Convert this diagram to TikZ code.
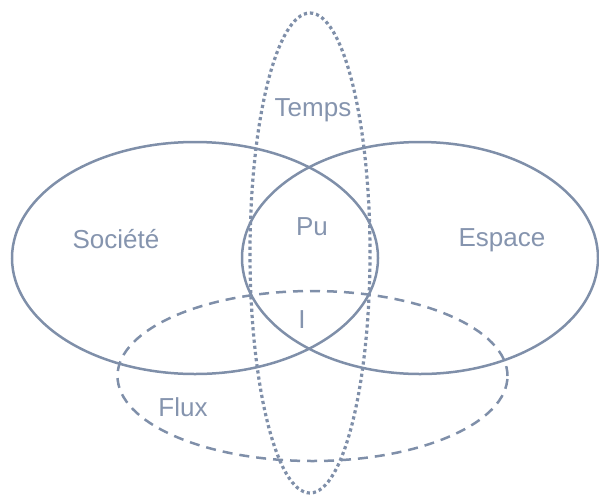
\documentclass[tikz,border=0pt]{standalone}
\usepackage{fontspec}
\setmainfont{Liberation Sans}
\definecolor{linec}{HTML}{7F8FA9}
\definecolor{textc}{HTML}{8594AE}
\begin{document}
\begin{tikzpicture}[x=1pt,y=-1pt,
  setline/.style={draw=linec, line width=2.5pt},
  dashline/.style={draw=linec, line width=2.5pt, dash pattern=on 10pt off 7pt},
  dotline/.style={draw=linec, line width=3.2pt, dash pattern=on 3.2pt off 3pt},
  lbl/.style={text=textc, font=\fontsize{26}{30}\selectfont, anchor=base, inner sep=0pt}]
\useasboundingbox (0,0) rectangle (599,496);
% Société
\draw[setline] (195,258) ellipse [x radius=183pt, y radius=116pt];
% Espace
\draw[setline] (420,258) ellipse [x radius=178pt, y radius=116pt];
% Flux
\draw[dashline] (312.5,376) ellipse [x radius=195pt, y radius=85pt];
% Temps
\draw[dotline] (310,253) ellipse [x radius=60pt, y radius=240pt];
\node[lbl] (soc) at (116,248) {Société};
\node[lbl] (esp) at (502,246) {Espace};
\node[lbl] (pu) at (312,235) {Pu};
\node[lbl] (i) at (302,328) {I};
\node[lbl] (flux) at (183,416) {Flux};
\node[lbl] (temps) at (313,116) {Temps};
\end{tikzpicture}
\end{document}
